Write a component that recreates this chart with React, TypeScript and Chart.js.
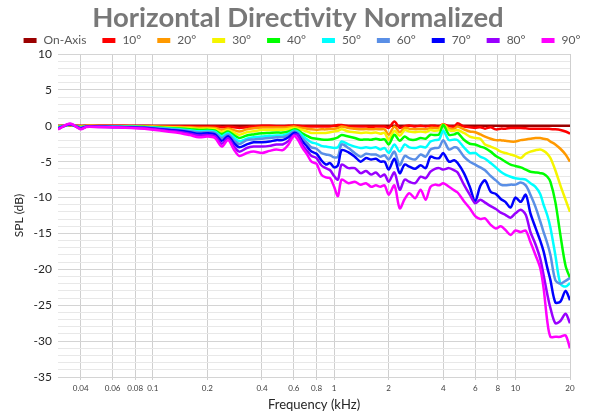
import { useEffect, useRef } from "react";
import { Chart, registerables } from "chart.js";

Chart.register(...registerables);

const TITLE = "Horizontal Directivity Normalized";
const X_LABEL = "Frequency (kHz)";
const Y_LABEL = "SPL (dB)";

const FREQS = [
  0.03, 0.035, 0.04, 0.043, 0.05, 0.06, 0.07, 0.08, 0.09, 0.1,
  0.12, 0.14, 0.16, 0.18, 0.2, 0.22, 0.24, 0.26, 0.28, 0.3,
  0.33, 0.36, 0.4, 0.44, 0.48, 0.52, 0.56, 0.6, 0.63, 0.67,
  0.71, 0.75, 0.8, 0.85, 0.9, 0.95, 1.0, 1.05, 1.1, 1.2,
  1.3, 1.4, 1.5, 1.6, 1.7, 1.8, 1.9, 2.0, 2.15, 2.3,
  2.45, 2.6, 2.8, 3.0, 3.2, 3.4, 3.6, 3.8, 4.0, 4.3,
  4.6, 4.8, 5.2, 5.6, 6.0, 6.4, 6.8, 7.3, 7.8, 8.3,
  8.8, 9.4, 10, 10.7, 11.4, 12.1, 12.9, 13.7, 14.3, 15, 15.6, 16.6, 17.7, 18.9, 20,
];

const SERIES_LABELS = ["On-Axis", "10°", "20°", "30°", "40°", "50°", "60°", "70°", "80°", "90°"];
const SERIES_COLORS = ["#9b0000", "#ff0000", "#ff9900", "#f5f500", "#00ff00", "#00ffff", "#5a8fe6", "#0000ff", "#9900ff", "#ff00ff"];

const ON_AXIS = [
  0, 0, 0, 0, 0, 0, 0, 0, 0, 0,
  0, 0, 0, 0, 0, 0, 0, 0, 0, 0,
  0, 0, 0, 0, 0, 0, 0, 0, 0, 0,
  0, 0, 0, 0, 0, 0, 0, 0, 0, 0,
  0, 0, 0, 0, 0, 0, 0, 0, 0, 0,
  0, 0, 0, 0, 0, 0, 0, 0, 0, 0,
  0, 0, 0, 0, 0, 0, 0, 0, 0, 0,
  0, 0, 0, 0, 0, 0, 0, 0, 0, 0, 0, 0, 0, 0, 0,
];

const DEG10 = [
  -0.05, 0.03, -0.05, 0, 0, 0, -0.01, -0.02, -0.03, -0.05,
  -0.06, -0.07, -0.08, -0.1, -0.1, -0.1, -0.2, -0.12, -0.2, -0.3,
  -0.2, -0.1, 0, 0, -0.05, -0.05, 0, 0.05, 0, -0.05,
  -0.1, -0.1, -0.1, -0.1, -0.1, -0.1, 0, 0.1, 0.1, -0.05,
  -0.1, -0.1, -0.1, -0.15, -0.1, -0.1, -0.1, -0.3, 0.6, -0.3,
  -0.05, 0.05, -0.1, 0, -0.1, 0, 0, -0.1, 0.2, -0.05,
  -0.1, 0.35, -0.1, -0.2, -0.3, -0.2, -0.4, -0.2, -0.5, -0.4,
  -0.4, -0.3, -0.3, -0.3, -0.35, -0.4, -0.4, -0.4, -0.4, -0.4, -0.45, -0.5, -0.6, -0.8, -1.1,
];

const DEG20 = [
  -0.1, 0.06, -0.1, -0.02, -0.02, -0.03, -0.04, -0.05, -0.07, -0.1,
  -0.14, -0.18, -0.22, -0.28, -0.27, -0.3, -0.55, -0.38, -0.6, -0.8,
  -0.5, -0.35, -0.25, -0.25, -0.25, -0.25, -0.2, -0.1, -0.2, -0.3,
  -0.4, -0.5, -0.55, -0.5, -0.5, -0.45, -0.4, -0.3, -0.1, -0.3,
  -0.4, -0.5, -0.45, -0.5, -0.45, -0.5, -0.5, -1.25, -0.1, -0.9,
  -0.3, -0.4, -0.5, -0.4, -0.5, -0.3, -0.3, -0.3, 0.2, -0.4,
  -0.4, -0.1, -0.5, -0.8, -0.9, -1.2, -1.5, -1.8, -2.0, -2.0,
  -2.1, -2.2, -2.2, -2.0, -1.9, -1.8, -1.7, -1.7, -1.8, -1.9, -2.2, -2.6, -3.2, -4.0, -5.0,
];

const DEG30 = [
  -0.15, 0.1, -0.15, -0.04, -0.05, -0.06, -0.07, -0.09, -0.11, -0.15,
  -0.22, -0.28, -0.35, -0.44, -0.42, -0.48, -0.85, -0.6, -0.95, -1.25,
  -0.9, -0.75, -0.6, -0.6, -0.55, -0.55, -0.45, -0.3, -0.4, -0.6,
  -0.8, -1.0, -1.0, -1.0, -1.0, -0.9, -0.8, -0.7, -0.5, -0.8,
  -0.9, -1.0, -0.95, -1.0, -0.95, -1.1, -1.0, -1.95, -0.7, -1.4,
  -0.6, -0.8, -0.9, -0.8, -0.9, -0.6, -0.7, -0.6, 0.15, -0.6,
  -0.7, -0.6, -1.0, -1.5, -1.7, -1.8, -2.6, -2.9, -3.2, -3.6,
  -3.8, -4.0, -4.2, -4.5, -3.9, -3.6, -3.4, -3.3, -3.5, -3.9, -4.5, -6.2, -8.3, -10.3, -12.0,
];

const DEG40 = [
  -0.2, 0.13, -0.2, -0.06, -0.07, -0.08, -0.1, -0.12, -0.15, -0.2,
  -0.3, -0.38, -0.48, -0.6, -0.57, -0.65, -1.15, -0.8, -1.3, -1.7,
  -1.35, -1.2, -1.05, -1.0, -0.95, -0.95, -0.8, -0.5, -0.6, -1.1,
  -1.4, -1.7, -1.8, -1.9, -1.95, -1.9, -1.8, -1.6, -1.3, -1.5,
  -1.7, -1.95, -1.9, -1.95, -1.8, -1.95, -1.9, -2.6, -1.25, -2.1,
  -1.5, -1.9, -1.95, -1.7, -1.8, -1.25, -1.3, -1.2, 0.1, -1.25,
  -1.2, -1.0, -1.95, -2.5, -2.6, -2.9, -3.1, -3.6, -4.2, -4.6,
  -5.0, -5.4, -5.6, -5.8, -6.1, -6.4, -6.5, -6.6, -6.7, -7.1, -7.8, -10.6, -15.2, -19.5, -21.2,
];

const DEG50 = [
  -0.25, 0.16, -0.25, -0.08, -0.09, -0.1, -0.13, -0.15, -0.19, -0.25,
  -0.38, -0.48, -0.62, -0.77, -0.73, -0.83, -1.45, -1.0, -1.65, -2.15,
  -1.8, -1.6, -1.5, -1.4, -1.35, -1.35, -1.1, -0.7, -0.8, -1.4,
  -1.9, -2.3, -2.5, -2.8, -2.9, -3.0, -3.1, -3.0, -2.2, -2.6,
  -2.9, -3.1, -3.0, -3.1, -3.0, -3.3, -3.1, -3.8, -2.6, -3.6,
  -2.6, -3.0, -3.1, -2.9, -3.0, -2.2, -2.0, -1.9, -0.7, -2.0,
  -1.9, -2.0, -3.0, -3.8, -3.8, -4.3, -4.6, -5.2, -5.8, -6.4,
  -6.8, -7.1, -7.3, -7.4, -7.5, -8.0, -8.5, -9.5, -11.0, -12.5, -14.2, -18.0, -22.0, -22.4, -21.9,
];

const DEG60 = [
  -0.3, 0.19, -0.3, -0.1, -0.11, -0.13, -0.16, -0.19, -0.23, -0.3,
  -0.46, -0.58, -0.75, -0.93, -0.88, -1.0, -1.75, -1.2, -2.0, -2.55,
  -2.0, -1.9, -1.8, -1.7, -1.6, -1.6, -1.3, -0.8, -1.0, -1.8,
  -2.4, -3.0, -3.2, -3.8, -4.0, -4.1, -4.4, -4.3, -2.6, -3.1,
  -3.8, -4.3, -3.9, -4.0, -4.0, -4.3, -4.1, -4.7, -3.6, -5.5,
  -4.2, -4.5, -4.7, -4.0, -4.3, -3.3, -3.1, -3.0, -2.0, -3.3,
  -3.0, -3.1, -4.3, -5.0, -5.4, -5.8, -6.2, -7.0, -7.6, -8.2,
  -8.3, -8.2, -8.2, -7.9, -8.3, -9.6, -11.3, -13.3, -14.8, -16.4, -18.0, -21.5, -22.0, -21.6, -21.2,
];

const DEG70 = [
  -0.36, 0.22, -0.36, -0.12, -0.13, -0.16, -0.19, -0.23, -0.29, -0.38,
  -0.56, -0.7, -0.9, -1.12, -1.05, -1.2, -2.1, -1.45, -2.4, -3.0,
  -2.6, -2.3, -2.3, -2.2, -2.0, -2.0, -1.6, -1.0, -1.2, -2.2,
  -2.9, -3.6, -3.9, -4.8, -5.4, -5.2, -5.8, -5.5, -3.4, -3.7,
  -4.3, -5.0, -4.5, -4.7, -4.6, -5.0, -5.0, -6.1, -4.6, -6.6,
  -5.4, -5.7, -6.0, -5.5, -5.9, -4.3, -4.5, -4.5, -3.8, -5.0,
  -4.8, -5.2, -6.6, -8.5, -10.5, -8.4, -7.6, -9.2, -9.5, -10.2,
  -10.6, -11.4, -10.0, -10.6, -9.6, -12.2, -14.2, -16.0, -17.5, -19.8, -21.5, -24.6, -24.5, -23.0, -24.3,
];

const DEG80 = [
  -0.43, 0.25, -0.42, -0.14, -0.16, -0.19, -0.23, -0.28, -0.36, -0.46,
  -0.68, -0.85, -1.1, -1.35, -1.3, -1.45, -2.5, -1.75, -2.85, -3.6,
  -3.1, -2.9, -2.9, -2.8, -2.6, -2.6, -2.1, -1.3, -1.3, -2.7,
  -3.5, -4.2, -4.5, -5.5, -5.9, -6.2, -7.0, -7.5, -5.4, -5.9,
  -5.9, -6.6, -6.3, -6.8, -6.5, -7.1, -6.8, -7.8, -6.5, -8.9,
  -7.5, -7.8, -8.0, -7.1, -7.3, -6.4, -6.0, -5.9, -6.1, -5.9,
  -6.2, -6.5, -8.2, -9.6, -10.8, -10.3, -10.7, -11.2, -11.6, -12.1,
  -12.4, -12.8, -12.2, -11.7, -12.4, -14.8, -16.5, -18.5, -20.8, -23.5, -25.4, -27.5, -27.2, -26.2, -27.5,
];

const DEG90 = [
  -0.5, 0.3, -0.48, -0.16, -0.18, -0.22, -0.27, -0.33, -0.43, -0.55,
  -0.8, -1.0, -1.3, -1.6, -1.5, -1.7, -2.9, -2.0, -3.3, -4.2,
  -3.8, -3.6, -3.8, -3.5, -3.3, -3.4, -2.6, -1.4, -1.9, -3.1,
  -4.0, -5.0, -5.3, -6.8, -7.2, -7.3, -8.5, -9.8, -7.5, -8.0,
  -7.8, -8.2, -8.0, -8.5, -8.3, -8.5, -8.3, -9.6, -8.3, -11.5,
  -10.2, -9.4, -10.1, -8.9, -10.3, -8.5, -8.2, -8.3, -8.0, -8.5,
  -9.0, -9.3, -10.5, -11.5, -12.6, -13.0, -12.9, -13.8, -14.3, -14.0,
  -14.5, -15.2, -14.6, -14.8, -14.6, -16.2, -18.0, -19.8, -22.6, -27.3, -29.4, -29.4, -29.4, -29.2, -31.0,
];

const SERIES_VALUES = [ON_AXIS, DEG10, DEG20, DEG30, DEG40, DEG50, DEG60, DEG70, DEG80, DEG90];

const X_TICKS = [0.04, 0.06, 0.08, 0.1, 0.2, 0.4, 0.6, 0.8, 1, 2, 4, 6, 8, 10, 20];
const X_MIN = 0.03;
const X_MAX = 20;
const Y_MIN = -35;
const Y_MAX = 10;
const Y_LABEL_STEP = 5;

const FONT = "Lato, 'Open Sans', sans-serif";

const headerPlugin = {
  id: "header",
  afterDraw(chart: any) {
    const ctx = chart.ctx as CanvasRenderingContext2D;
    ctx.save();
    ctx.fillStyle = "#787878";
    ctx.font = `bold 27.5px ${FONT}`;
    ctx.textAlign = "center";
    ctx.textBaseline = "middle";
    ctx.fillText(TITLE, 298, 18);

    ctx.font = `12px ${FONT}`;
    const box = 13;
    const gap = 7;
    const pad = 16;
    const items = chart.data.datasets.map((d: any) => ({ text: d.label, color: d.borderColor }));
    const widths = items.map((it: any) => box + gap + ctx.measureText(it.text).width);
    const total = widths.reduce((a: number, b: number) => a + b, 0) + pad * (items.length - 1);
    let x = 302 - total / 2;
    ctx.textAlign = "left";
    items.forEach((it: any, i: number) => {
      ctx.fillStyle = it.color;
      ctx.fillRect(x, 38, box, 5);
      ctx.fillStyle = "#595959";
      ctx.fillText(it.text, x + box + gap, 40.5);
      x += widths[i] + pad;
    });
    ctx.restore();
  },
};

export default function App() {
  const ref = useRef<HTMLCanvasElement | null>(null);

  useEffect(() => {
    if (!ref.current) return;
    const datasets = SERIES_LABELS.map((label, i) => ({
      label,
      data: FREQS.map((f, j) => ({ x: f, y: SERIES_VALUES[i][j] })),
      borderColor: SERIES_COLORS[i],
      backgroundColor: SERIES_COLORS[i],
      borderWidth: 2.5,
      pointRadius: 0,
      tension: 0.3,
      fill: false,
      order: SERIES_LABELS.length - i,
    }));

    const chart = new Chart(ref.current, {
      type: "line",
      data: { datasets },
      options: {
        animation: false,
        responsive: true,
        maintainAspectRatio: false,
        layout: { padding: { top: 54, right: 30, bottom: 0, left: 0 } },
        plugins: {
          legend: { display: false },
          title: { display: false },
          tooltip: { enabled: false },
        },
        scales: {
          x: {
            type: "logarithmic",
            min: X_MIN,
            max: X_MAX,
            afterFit: (scale: any) => {
              scale.height = 43;
            },
            afterBuildTicks: (scale: any) => {
              scale.ticks = X_TICKS.map((v) => ({ value: v }));
            },
            border: { display: false },
            grid: {
              color: "#cfcfcf",
              lineWidth: 1,
              drawTicks: true,
              tickLength: 3,
            },
            ticks: {
              autoSkip: false,
              maxRotation: 0,
              padding: 4,
              color: "#404040",
              font: { size: 8, family: FONT },
              callback: (v: any) => String(v),
            },
            title: {
              display: true,
              text: X_LABEL,
              color: "#262626",
              font: { size: 13, family: FONT },
              padding: { top: 0, bottom: 7 },
            },
          },
          y: {
            min: Y_MIN,
            max: Y_MAX,
            afterFit: (scale: any) => {
              scale.width = 58;
            },
            border: { display: false },
            grid: {
              drawTicks: false,
              color: (c: any) => (c.tick && c.tick.value % Y_LABEL_STEP === 0 ? "#d4d4d4" : "#e8e8e8"),
            },
            ticks: {
              stepSize: 1,
              autoSkip: false,
              padding: 6,
              color: "#262626",
              font: { size: 12, family: FONT },
              callback: (v: any) => (Number(v) % Y_LABEL_STEP === 0 ? String(v) : ""),
            },
            title: {
              display: true,
              text: Y_LABEL,
              color: "#262626",
              font: { size: 12, family: FONT },
              padding: { top: 12, bottom: 8 },
            },
          },
        },
      },
      plugins: [headerPlugin],
    } as any);

    return () => chart.destroy();
  }, []);

  return (
    <div style={{ position: "fixed", left: 0, top: 0, width: 600, height: 420, background: "#fff" }}>
      <canvas ref={ref} />
    </div>
  );
}
